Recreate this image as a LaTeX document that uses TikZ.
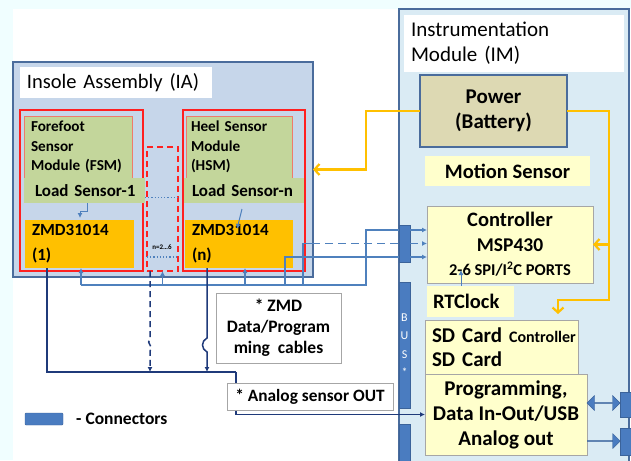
\documentclass[tikz,border=0pt]{standalone}
\usepackage{fontspec}
\setmainfont{Carlito}
\usetikzlibrary{arrows.meta, positioning, shapes.arrows}

\definecolor{bgcyan}{HTML}{F0FEFF}
\definecolor{iafill}{HTML}{C6D6EA}
\definecolor{imfill}{HTML}{DAEBF4}
\definecolor{frameblue}{HTML}{4A6C9C}
\definecolor{sensred}{HTML}{FF2020}
\definecolor{salmon}{HTML}{F07A6A}
\definecolor{sensgreen}{HTML}{C3D69B}
\definecolor{zmdorange}{HTML}{FFC000}
\definecolor{powerkhaki}{HTML}{DDD9B3}
\definecolor{paleyellow}{HTML}{FFFFCC}
\definecolor{wireblue}{HTML}{4F81BD}
\definecolor{navy}{HTML}{1F3A7A}
\definecolor{connblue}{HTML}{4A7CC0}

\begin{document}
\begin{tikzpicture}[x=1pt, y=-1pt,
  blk/.style={anchor=north west, inner sep=0pt, outer sep=0pt},
  lbl/.style={font=\fontsize{17}{25}\selectfont\bfseries},
  big/.style={font=\fontsize{20.5}{24.5}\selectfont\bfseries},
  small/.style={font=\fontsize{15.2}{19.5}\selectfont\bfseries},
  yellowbox/.style={blk, fill=paleyellow, draw=gray!70, line width=0.8pt, big, align=center},
  conn/.style={fill=connblue, draw=connblue!80!black, line width=0.4pt},
  wire/.style={draw=wireblue, line width=1.2pt},
  navyline/.style={draw=navy, line width=1.5pt},
  powerline/.style={draw=zmdorange, line width=2.2pt},
  barb/.style={-{Straight Barb[length=5pt, width=11pt]}},
  tip/.style={-{Latex[length=5pt, width=5pt]}}
]
  % page
  \useasboundingbox (0,0) rectangle (631,460);
  \fill[bgcyan] (0,0) rectangle (631,460);
  \fill[white] (13,9) rectangle (631,460);

  % Insole assembly
  \node[blk, fill=iafill, draw=frameblue, line width=1.6pt, minimum width=300pt, minimum height=215pt]
    (ia) at (13,62) {};
  \node[blk, fill=white, minimum width=192pt, minimum height=31pt, text width=178pt, inner xsep=7pt,
    align=left, font=\fontsize{20.5}{24}\selectfont]
    (iatitle) at (20,67) {Insole Assembly (IA)};

  \node[blk, draw=sensred, line width=1.6pt, minimum width=123pt, minimum height=161pt]
    (fsmframe) at (20,110) {};
  \node[blk, fill=sensgreen, draw=salmon, line width=0.6pt, minimum width=108pt, minimum height=62pt,
    text width=94pt, inner xsep=7pt, align=left, small]
    (fsm) at (24,116) {Forefoot\\Sensor\\Module (FSM)};
  \node[blk, fill=sensgreen, minimum width=121pt, minimum height=25pt, text width=99pt, inner xsep=11pt,
    align=left, lbl]
    (load1) at (24,178) {\mbox{Load Sensor-1}};
  \node[blk, fill=zmdorange, minimum width=109pt, minimum height=48pt, text width=95pt, inner xsep=7pt,
    align=left, lbl]
    (zmd1) at (25,220) {ZMD31014\\(1)};

  \node[blk, draw=sensred, line width=1.6pt, dash pattern=on 6pt off 4pt, minimum width=31pt, minimum height=124pt]
    (nbox) at (147,147) {};
  \node[font=\fontsize{7}{8}\selectfont\bfseries, inner sep=0pt] (nrange) at (162,247) {n=2…6};

  \node[blk, draw=sensred, line width=1.6pt, minimum width=122pt, minimum height=161pt]
    (hsmframe) at (183,110) {};
  \node[blk, fill=sensgreen, draw=salmon, line width=0.6pt, minimum width=106pt, minimum height=62pt,
    text width=96pt, inner xsep=5pt, align=left, small]
    (hsm) at (186,116) {Heel Sensor\\Module\\(HSM)};
  \node[blk, fill=sensgreen, minimum width=120pt, minimum height=25pt, text width=104pt, inner xsep=8pt,
    align=left, lbl]
    (loadn) at (184,178) {\mbox{Load Sensor-n}};
  \node[blk, fill=zmdorange, minimum width=108pt, minimum height=48pt, text width=94pt, inner xsep=7pt,
    align=left, lbl]
    (zmdn) at (185,220) {ZMD31014\\(n)};

  % load sensor to ZMD
  \draw[wire, line width=1pt, tip] ([xshift=2.5pt]load1.south) -- ++(0,8) -- ++(-7,0) -- ++(0,7);
  \draw[wire, line width=1pt, tip] ([xshift=-2pt,yshift=-6pt]loadn.south) -- ([xshift=-2pt,yshift=-9pt]zmdn.north);
  \draw[wire, dotted, line width=1.3pt] ([yshift=-7pt]load1.east) -- ++(33,0);
  \draw[wire, dotted, line width=1.3pt] ([yshift=14pt]nbox.south west) -- ++(31,0);

  % Instrumentation module
  \node[blk, fill=imfill, draw=frameblue, line width=1.6pt, minimum width=230pt, minimum height=455pt]
    (im) at (399,9) {};
  \node[blk, fill=white, minimum width=220pt, minimum height=57pt, text width=206pt, inner xsep=7pt,
    align=left, font=\fontsize{21}{25}\selectfont]
    (imtitle) at (404,15) {Instrumentation\\Module (IM)};
  \node[blk, fill=powerkhaki, draw=frameblue, line width=1.2pt, minimum width=147pt, minimum height=72pt,
    align=center, font=\fontsize{21}{25}\selectfont\bfseries]
    (power) at (420,75) {Power\\(Battery)};
  \node[blk, fill=paleyellow, minimum width=165pt, minimum height=30pt, big]
    (motion) at (425,156) {Motion Sensor};
  \node[yellowbox, minimum width=166pt, minimum height=77pt]
    (ctrl) at (427,206) {Controller\\{\fontsize{19.5}{24}\selectfont MSP430}\\{\fontsize{16.5}{16}\selectfont 2-6 SPI/I\textsuperscript{2}C PORTS}};
  \node[blk, fill=paleyellow, minimum width=81pt, minimum height=31pt, text width=75pt, inner xsep=6pt,
    align=left, big]
    (rtc) at (427,286) {RTClock};
  \node[yellowbox, minimum width=153pt, minimum height=55pt, text width=139pt, inner xsep=7pt, align=left,
    font=\fontsize{21}{24}\selectfont\bfseries]
    (sd) at (425,320) {\mbox{SD Card {\fontsize{16}{16}\selectfont Controller}}\\SD Card};
  \node[yellowbox, minimum width=162pt, minimum height=81pt, font=\fontsize{21}{25}\selectfont\bfseries]
    (prog) at (425,374) {Programming,\\Data In-Out/USB\\Analog out};

  % connectors
  \node[blk, conn, minimum width=11pt, minimum height=37pt] (bus1) at (399,225) {};
  \node[blk, conn, minimum width=11pt, minimum height=126pt, text=white, align=center,
    font=\fontsize{12}{18.5}\selectfont] (bus2) at (399,282) {B\\U\\S\\*};
  \node[blk, conn, minimum width=11pt, minimum height=38pt] (bus3) at (399,424) {};
  \node[blk, conn, minimum width=11pt, minimum height=25pt] (usbport) at (620,392) {};
  \node[blk, conn, minimum width=11pt, minimum height=27pt] (analogport) at (620,428) {};
  \node[double arrow, conn, minimum height=33pt, minimum width=15pt, double arrow head extend=3.5pt,
    inner sep=0pt] (usbarrow) at (603.5,403) {};
  \node[single arrow, conn, minimum height=33pt, minimum width=15pt, single arrow head extend=3.5pt,
    inner sep=0pt] (analogarrow) at (603.5,441) {};

  % power supply
  \draw[powerline, barb] (power.west) -- ++(-54,0) |- (ia.east);
  \coordinate (pwrturn) at (609,300);
  \draw[powerline, barb, shorten >=6pt] (power.east) -| (pwrturn) -| ([xshift=56.5pt]sd.north);
  \draw[powerline, barb] (pwrturn |- ctrl.east) -- (ctrl.east);

  % SPI / I2C wiring to the controller
  \coordinate (feed) at (366,285);
  \draw[wire] ([xshift=1.5pt]zmd1.south |- feed) -- (feed) |- ([yshift=13.5pt]bus1.west);
  \draw[wire, tip] ([xshift=1.5pt]zmd1.south |- feed) -- ([xshift=1.5pt]zmd1.south);
  \draw[wire, tip] (nbox.south |- feed) -- (nbox.south);
  \draw[wire, tip] ([xshift=6pt]zmdn.south |- feed) -- ([xshift=6pt]zmdn.south);
  \draw[wire] ([xshift=-81pt]feed) |- ([yshift=-13.5pt]bus1.west);
  \draw[wire] ([xshift=-63pt]feed) |- ([xshift=-87pt]bus1.west) coordinate (dtap);
  \draw[wire, dashed, dash pattern=on 8pt off 5pt] (dtap) -- (bus1.west);
  \draw[wire, tip] ([yshift=13.5pt]bus1.east) -- ([yshift=13.5pt]bus1.east -| ctrl.west);
  \draw[wire, tip, dashed, dash pattern=on 8pt off 5pt] (bus1.east) -- (bus1.east -| ctrl.west);
  \draw[wire, tip] ([yshift=-13.5pt]bus1.east) -- ([yshift=-13.5pt]bus1.east -| ctrl.west);
  \draw[wire, line width=0.8pt, tip] ([xshift=-9.5pt]rtc.north) -- ++(0,-16);

  % analog sensor outputs
  \coordinate (sink) at (236,372);
  \coordinate (atap1) at ([xshift=-32.5pt]zmd1.south);
  \coordinate (atapn) at ([xshift=22pt]zmdn.south west);
  \coordinate (atapd) at ([xshift=3pt]nbox.south west);
  \draw[navyline] (atap1) |- (sink);
  \draw[navyline, tip] (sink) |- (prog.west);
  \draw[navyline, tip] (atapn) -- ++(0,70) .. controls +(-6,3) and +(-6,-3) .. ++(0,14) -- (atapn |- sink);
  \draw[navyline, tip, dashed, dash pattern=on 6pt off 4pt] (atapd) -- ++(0,68)
    .. controls +(-5,4) and +(5,-4) .. ++(0,12) -- (atapd |- sink);

  % notes
  \node[blk, fill=white, draw=gray!70, line width=0.8pt, minimum width=125pt, minimum height=70pt,
    align=center, font=\fontsize{17.5}{21}\selectfont\bfseries]
    (cables) at (216,293) {* ZMD\\Data/Program\\ming~~cables};
  \node[blk, fill=white, draw=gray!70, line width=0.8pt, minimum width=166pt, minimum height=27pt,
    font=\fontsize{17.3}{20}\selectfont\bfseries]
    (analognote) at (227,383) {* Analog sensor OUT};

  % legend
  \node[blk, conn, rounded corners=1pt, minimum width=38pt, minimum height=12pt] (legendconn) at (25,413) {};
  \node[anchor=west, inner sep=0pt, font=\fontsize{17.5}{20}\selectfont\bfseries] (legendtext) at (76,419) {- Connectors};
\end{tikzpicture}
\end{document}
